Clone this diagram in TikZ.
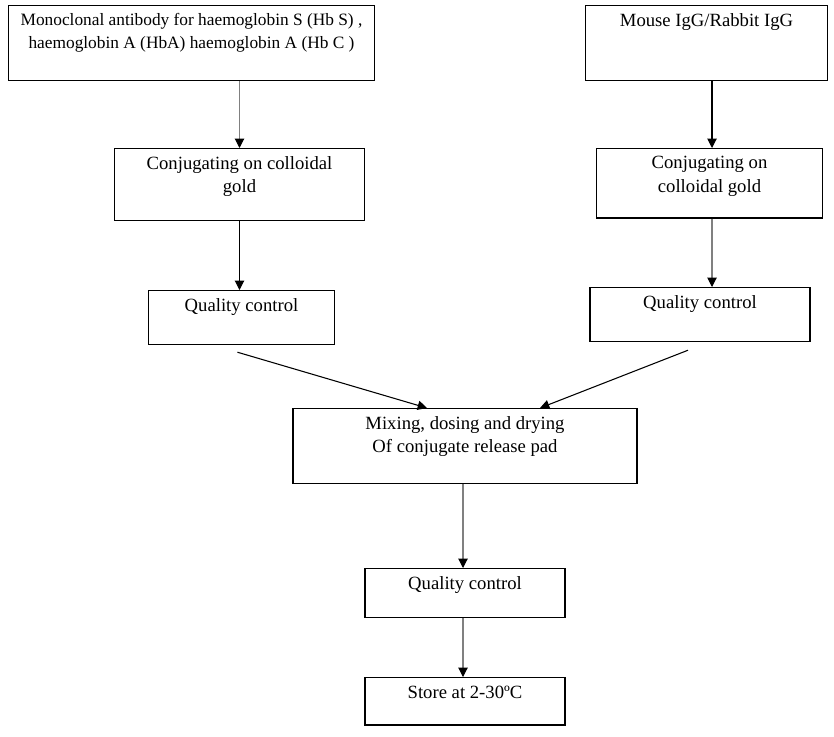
\documentclass[tikz,border=0pt]{standalone}
\usepackage{fontspec}
\setmainfont{Liberation Serif}
\usepackage{tikz}
\usetikzlibrary{arrows.meta, positioning, calc}
\tikzset{
  box/.style={rectangle, draw=black, line width=0.9pt, anchor=north, align=center,
              inner xsep=2pt, inner ysep=6pt,
              font=\fontsize{14}{17.5}\selectfont},
  arc/.style={-{Triangle[length=7pt, width=7pt]}, line width=0.8pt},
  arcg/.style={-{Triangle[length=7pt, width=7pt, color=black]}, line width=0.8pt, draw=gray}
}
\begin{document}
\begin{tikzpicture}[x=0.75pt, y=-0.75pt]
  \useasboundingbox (0,0) rectangle (834,736);
  % left branch
  \node[box, minimum width=275pt, text depth=18pt, font=\fontsize{13}{17.25}\selectfont] (mab) at (191.5,5)
    {Monoclonal antibody for haemoglobin S (Hb S) ,\\haemoglobin A (HbA) haemoglobin A (Hb C )};
  \node[box, minimum width=188pt, text depth=14.8pt] (conjl) at (239.5,148)
    {Conjugating on colloidal\\gold};
  \node[box, minimum width=140pt, text depth=18.8pt] (qcl) at (241.5,290) {Quality control};
  % right branch
  \node[box, minimum width=182pt, text depth=34.5pt] (igg) at (706.5,5) {Mouse IgG/Rabbit IgG};
  \node[box, minimum width=169pt, text depth=13.3pt] (conjr) at (709.5,148)
    {Conjugating on\\colloidal gold};
  \node[box, minimum width=165pt, text depth=18.8pt] (qcr) at (700,287) {Quality control};
  % common part
  \node[box, minimum width=258pt, text depth=17pt] (mix) at (465,408)
    {Mixing, dosing and drying\\Of conjugate release pad};
  \node[box, minimum width=150pt, text depth=15pt] (qcm) at (465,568) {Quality control};
  \node[box, minimum width=150pt, text depth=14.3pt] (store) at (465,677) {Store at 2-30ºC};

  \draw[arcg] (mab.south -| conjl.north) -- (conjl.north);
  \draw[arc] (conjl.south) -- (conjl.south |- qcl.north);
  \draw[arc] (igg.south -| 712,0) -- (712,0 |- conjr.north);
  \draw[arcg] (conjr.south -| 712,0) -- (712,0 |- qcr.north);
  \draw[arc] ($(qcl.south)+(-4,7)$) -- ($(mix.north)+(-38,0)$);
  \draw[arc] ($(qcr.south)+(-12,8)$) -- ($(mix.north)+(75,0)$);
  \draw[arcg] (mix.south -| 463,0) -- (463,0 |- qcm.north);
  \draw[arcg] (qcm.south -| 463,0) -- (463,0 |- store.north);
\end{tikzpicture}
\end{document}
